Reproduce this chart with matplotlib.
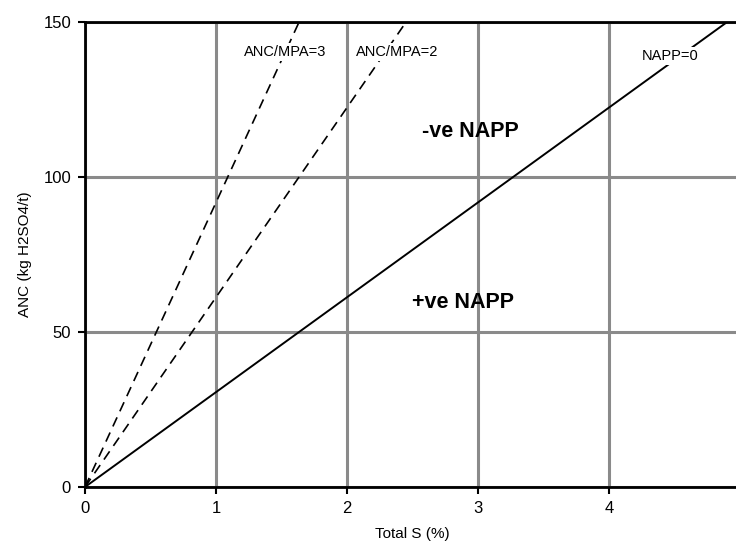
import matplotlib
matplotlib.use("Agg")
import matplotlib.pyplot as plt

plt.rcParams['font.family'] = ['Liberation Sans', 'DejaVu Sans']

# data
napp0_x = [0, 5.0]
napp0_y = [0, 153.0]
mpa2_x = [0, 2.5]
mpa2_y = [0, 153.0]
mpa3_x = [0, 1.667]
mpa3_y = [0, 153.0]
xticks = [0, 1, 2, 3, 4, 5]
yticks = [0, 50, 100, 150]

fig = plt.figure(figsize=(7.36, 5.44), dpi=100)
ax = fig.add_axes([85/736, 57/544, 655/736, 465/544])

ax.set_xlim(0, 5)
ax.set_ylim(0, 150)
ax.set_xticks(xticks)
ax.set_yticks(yticks)
ax.grid(True, color='#8a8a8a', linewidth=2.2, zorder=0)
ax.set_axisbelow(True)

ax.plot(napp0_x, napp0_y, color='black', linewidth=1.4, zorder=3)
ax.plot(mpa2_x, mpa2_y, color='black', linewidth=1.2, dashes=(6, 4), zorder=3)
ax.plot(mpa3_x, mpa3_y, color='black', linewidth=1.2, dashes=(6, 4), zorder=3)

box = dict(facecolor='white', edgecolor='none', pad=1.5)
ax.text(1.527, 140.3, 'ANC/MPA=3', fontsize=10.5, ha='center', va='center', bbox=box, zorder=4)
ax.text(2.38, 140.3, 'ANC/MPA=2', fontsize=10.5, ha='center', va='center', bbox=box, zorder=4)
ax.text(4.47, 139.0, 'NAPP=0', fontsize=10.5, ha='center', va='center', bbox=box, zorder=4)
ax.text(2.94, 114.8, '-ve NAPP', fontsize=15.5, fontweight='bold', ha='center', va='center', zorder=4)
ax.text(2.885, 59.4, '+ve NAPP', fontsize=15.5, fontweight='bold', ha='center', va='center', zorder=4)

for s in ['left', 'bottom', 'top']:
    ax.spines[s].set_linewidth(2)
    ax.spines[s].set_color('black')
ax.spines['right'].set_visible(False)

ax.tick_params(axis='both', direction='out', length=5, width=1.5, labelsize=12, pad=5)
ax.set_xlabel('Total S (%)', fontsize=11, labelpad=8)
ax.set_ylabel('ANC (kg H2SO4/t)', fontsize=11, labelpad=8)

fig.savefig('out.png', dpi=100)
